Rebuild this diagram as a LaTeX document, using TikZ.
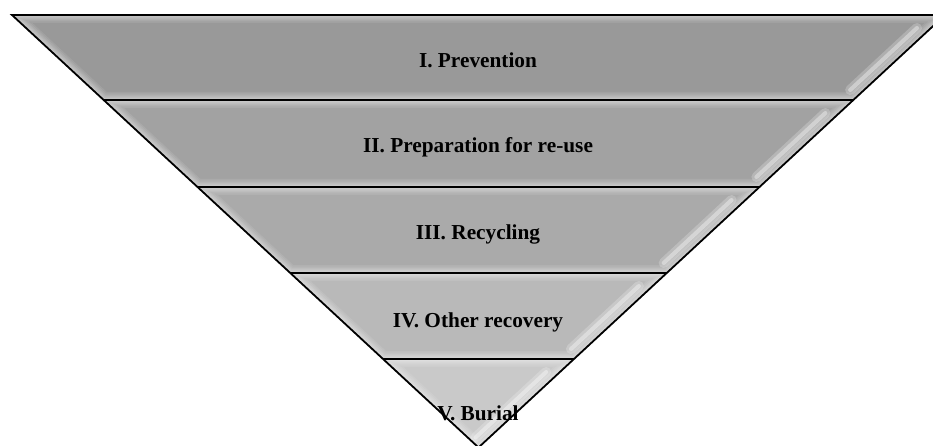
\documentclass[tikz,border=0pt]{standalone}
\usepackage{fontspec}
\setmainfont{Liberation Serif}
\begin{document}
\begin{tikzpicture}[x=1pt,y=-1pt,
  lbl/.style={font=\bfseries\fontsize{21.3}{24}\selectfont, anchor=base, inner sep=0pt},
  outline/.style={draw=black, line width=1.8pt, line join=miter},
  glowline/.style={draw=white, opacity=0.085},
  streakwide/.style={draw=white, opacity=0.22, line width=10pt, line cap=round},
  streakthin/.style={draw=white, opacity=0.38, line width=4pt, line cap=round}]
\useasboundingbox (0,0) rectangle (933,446);
\clip (0,0) rectangle (933,446);
\coordinate (TL) at (12,15);
\coordinate (TR) at (945,15);
\coordinate (A) at (478.5,447.5);
\foreach \yt/\yb/\g in {15/100/60, 100/187/63.5, 187/273/66.7, 273/359/72.5, 359/447.5/79}{
  \pgfmathsetmacro{\xlt}{12+(\yt-15)*1.078}
  \pgfmathsetmacro{\xrt}{945-(\yt-15)*1.078}
  \pgfmathsetmacro{\xlb}{12+(\yb-15)*1.078}
  \pgfmathsetmacro{\xrb}{945-(\yb-15)*1.078}
  \pgfmathsetmacro{\sya}{\yt+13}
  \pgfmathsetmacro{\syb}{\yb-10}
  \pgfmathsetmacro{\sxa}{945-(\sya-15)*1.078-14}
  \pgfmathsetmacro{\sxb}{945-(\syb-15)*1.078-14}
  \begin{scope}
    \clip (\xlt,\yt) -- (\xrt,\yt) -- (\xrb,\yb) -- (\xlb,\yb) -- cycle;
    \fill[white!\g!black] (\xlt,\yt) -- (\xrt,\yt) -- (\xrb,\yb) -- (\xlb,\yb) -- cycle;
    \foreach \w in {16,13,10,8,6,4,2.5,1.5}{
      \draw[glowline, line width=\w pt] (\xlt,\yt) -- (\xrt,\yt) -- (\xrb,\yb) -- (\xlb,\yb) -- cycle;
    }
    \draw[streakwide] (\sxa,\sya) -- (\sxb,\syb);
    \draw[streakthin] (\sxa,\sya) -- (\sxb,\syb);
  \end{scope}
}
\coordinate (L1) at (103.6,100); \coordinate (R1) at (853.4,100);
\coordinate (L2) at (197.4,187); \coordinate (R2) at (759.6,187);
\coordinate (L3) at (290.1,273); \coordinate (R3) at (666.9,273);
\coordinate (L4) at (382.8,359); \coordinate (R4) at (574.2,359);
\draw[outline] (TL) -- (TR) -- (A) -- cycle;
\draw[outline] (L1) -- (R1);
\draw[outline] (L2) -- (R2);
\draw[outline] (L3) -- (R3);
\draw[outline] (L4) -- (R4);
\node[lbl] (n1) at (478,68) {I. Prevention};
\node[lbl] (n2) at (478,153) {II. Preparation for re-use};
\node[lbl] (n3) at (478,240) {III. Recycling};
\node[lbl] (n4) at (478,327) {IV. Other recovery};
\node[lbl] (n5) at (478,420) {V. Burial};
\end{tikzpicture}
\end{document}
